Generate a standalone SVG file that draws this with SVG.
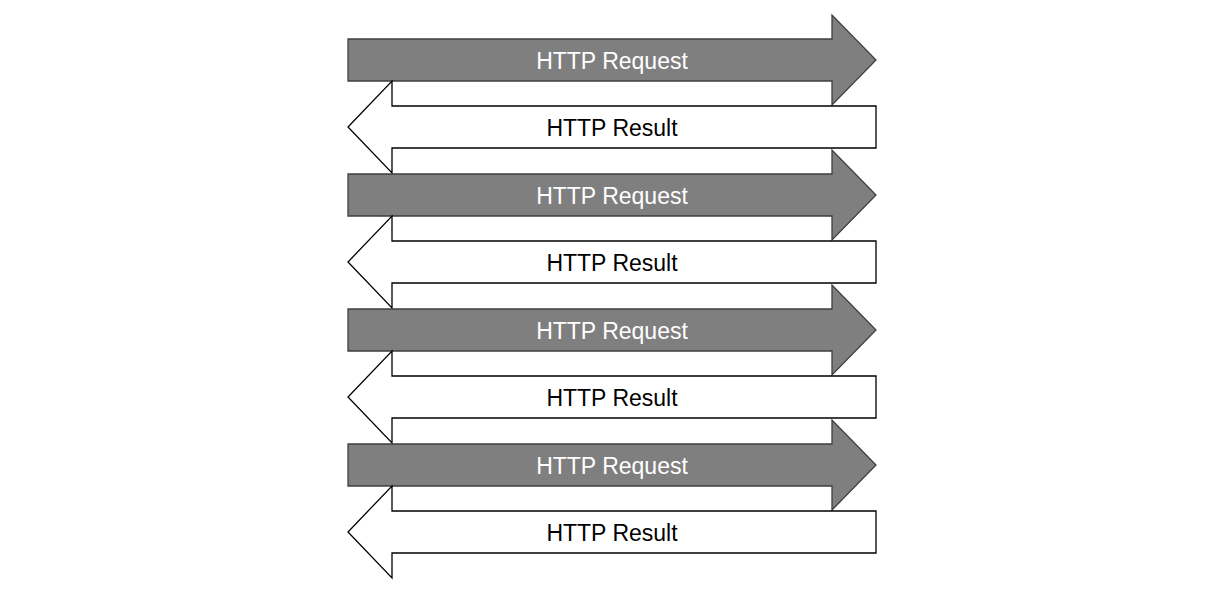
<svg xmlns="http://www.w3.org/2000/svg" width="1225" height="593" viewBox="0 0 1225 593">
<defs>
<style>
.req{fill:#7f7f7f;stroke:#3f3f3f;stroke-width:1.3;stroke-linejoin:miter}
.res{fill:#ffffff;stroke:#000000;stroke-width:1.3;stroke-linejoin:miter}
.lbl{font-family:"Liberation Sans",Arial,sans-serif;font-size:23px;text-anchor:middle}
.lreq{fill:#ffffff}
.lres{fill:#000000}
</style>
<polygon id="reqShape" class="req" points="348,-21 832,-21 832,-45 876,0 832,45 832,21 348,21"/>
<polygon id="resShape" class="res" points="876,-21 392,-21 392,-46 348,0 392,46 392,21 876,21"/>
</defs>
<rect width="1225" height="593" fill="#ffffff"/>
<g id="connectors"></g>
<g id="request1" transform="translate(0,60)"><use href="#reqShape"/><text class="lbl lreq" x="612" y="8.5">HTTP Request</text></g>
<g id="result1" transform="translate(0,127)"><use href="#resShape"/><text class="lbl lres" x="612" y="8.5">HTTP Result</text></g>
<g id="request2" transform="translate(0,195)"><use href="#reqShape"/><text class="lbl lreq" x="612" y="8.5">HTTP Request</text></g>
<g id="result2" transform="translate(0,262)"><use href="#resShape"/><text class="lbl lres" x="612" y="8.5">HTTP Result</text></g>
<g id="request3" transform="translate(0,330)"><use href="#reqShape"/><text class="lbl lreq" x="612" y="8.5">HTTP Request</text></g>
<g id="result3" transform="translate(0,397)"><use href="#resShape"/><text class="lbl lres" x="612" y="8.5">HTTP Result</text></g>
<g id="request4" transform="translate(0,465)"><use href="#reqShape"/><text class="lbl lreq" x="612" y="8.5">HTTP Request</text></g>
<g id="result4" transform="translate(0,532)"><use href="#resShape"/><text class="lbl lres" x="612" y="8.5">HTTP Result</text></g>
</svg>
